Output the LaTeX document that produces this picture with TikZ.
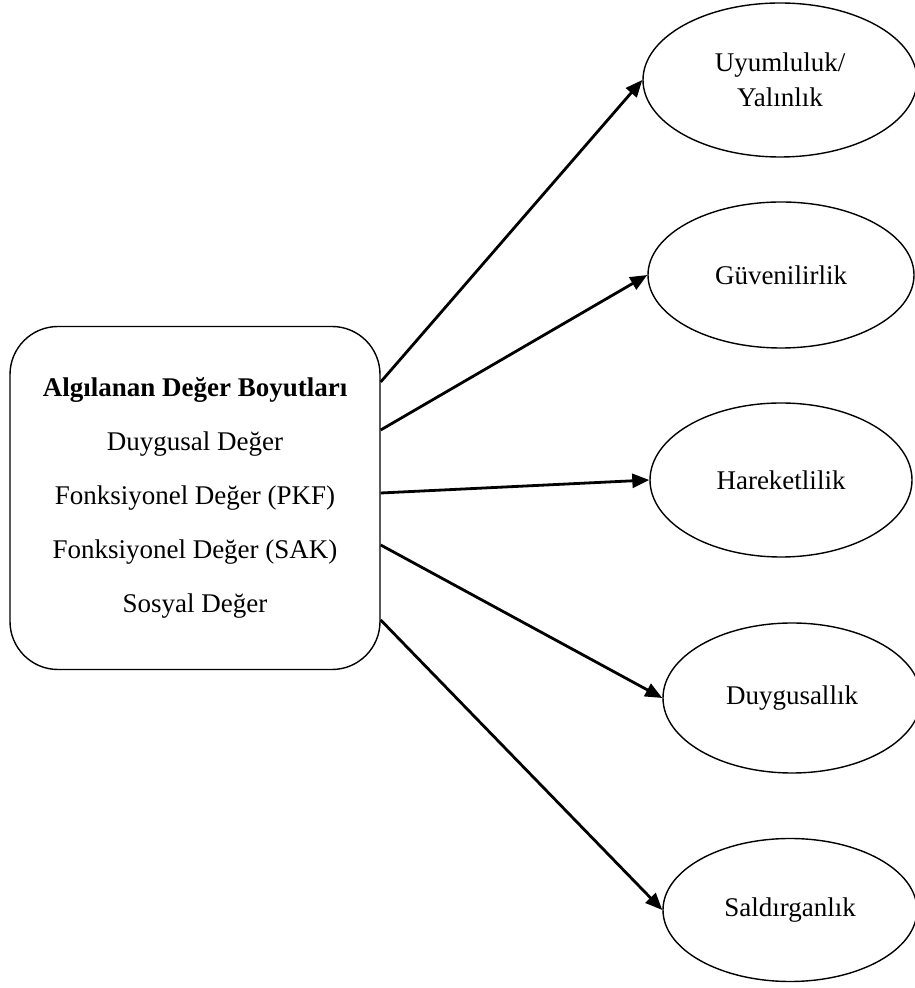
\documentclass[tikz,border=0pt]{standalone}
\usepackage{fontspec}
\setmainfont{Liberation Serif}
\usetikzlibrary{arrows.meta,shapes.geometric}
\begin{document}
\begin{tikzpicture}[x=1pt,y=1pt,
  dimbox/.style={draw, line width=1.4pt, rounded corners=48pt, minimum width=370pt, minimum height=343pt, align=center, font=\fontsize{27}{54}\selectfont},
  outell/.style={draw, ellipse, line width=1.4pt, inner sep=0pt, align=center, font=\fontsize{27}{35}\selectfont},
  link/.style={line width=2.8pt, -{Triangle[length=17pt,width=14pt]}}]
\useasboundingbox (0,0) rectangle (915,988);
\node[dimbox] (box) at (195,490) {\textbf{Algılanan Değer Boyutları}\\Duygusal Değer\\Fonksiyonel Değer (PKF)\\Fonksiyonel Değer (SAK)\\Sosyal Değer};
\node[outell, minimum width=274pt, minimum height=154pt] (e1) at (780,908) {Uyumluluk/\\Yalınlık};
\node[outell, minimum width=266pt, minimum height=146pt] (e2) at (781,713) {Güvenilirlik};
\node[outell, minimum width=262pt, minimum height=154pt] (e3) at (781,508) {Hareketlilik};
\node[outell, minimum width=258pt, minimum height=150pt] (e4) at (792,290) {Duygusallık};
\node[outell, minimum width=254pt, minimum height=143pt] (e5) at (790,78) {Saldırganlık};
\coordinate (s1) at ([yshift=116pt]box.east);
\coordinate (s2) at ([yshift=68pt]box.east);
\coordinate (s3) at ([yshift=5pt]box.east);
\coordinate (s4) at ([yshift=-47pt]box.east);
\coordinate (s5) at ([yshift=-122pt]box.east);
\draw[link] (s1) -- (e1.west);
\draw[link] (s2) -- (e2.west);
\draw[link] (s3) -- (e3.west);
\draw[link] (s4) -- (e4.west);
\draw[link] (s5) -- (e5.west);
\end{tikzpicture}
\end{document}
